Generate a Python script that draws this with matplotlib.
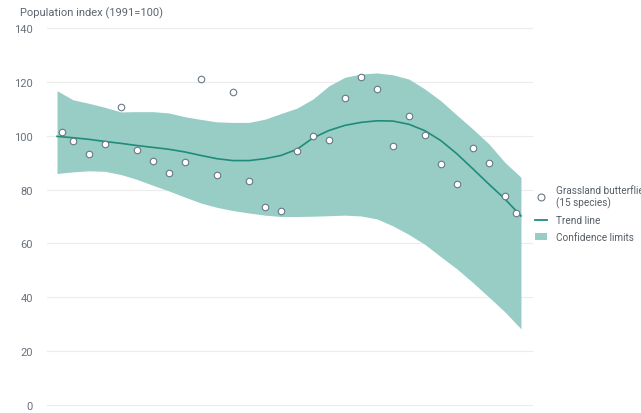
import matplotlib
matplotlib.use("Agg")
import matplotlib.pyplot as plt
from matplotlib.lines import Line2D
from matplotlib.patches import Patch

plt.rcParams['font.family'] = ['Roboto', 'DejaVu Sans']

# observed index values (points)
obs_years = [1991.3, 1992, 1993, 1994, 1995, 1996, 1997, 1998, 1999, 2000,
             2001, 2002, 2003, 2004, 2005, 2006, 2007, 2008, 2009, 2010,
             2011, 2012, 2013, 2014, 2015, 2016, 2017, 2018, 2019, 2019.67]
obs_values = [101.5, 98.1, 93.3, 96.8, 110.7, 94.8, 90.6, 86.3, 90.3, 121.1,
              85.3, 116.4, 83.2, 73.4, 72.1, 94.5, 99.9, 98.4, 114.1, 122.0,
              117.3, 96.2, 107.4, 100.3, 89.5, 82.0, 95.3, 89.9, 77.7, 71.2]

# trend and confidence limits
years = list(range(1991, 2021))
trend = [99.8, 99.3, 98.7, 97.9, 97.2, 96.4, 95.7, 95.0, 94.0, 92.7,
         91.5, 90.8, 90.8, 91.5, 92.7, 95.0, 99.2, 102.0, 103.9, 105.0,
         105.6, 105.5, 104.3, 101.9, 98.2, 93.3, 87.7, 82.0, 76.5, 70.2]
lower = [86.0, 86.6, 87.0, 86.8, 85.6, 83.8, 81.6, 79.5, 77.2, 75.0,
         73.4, 72.2, 71.3, 70.5, 70.0, 70.0, 70.1, 70.3, 70.5, 70.2,
         69.1, 66.5, 63.3, 59.6, 55.0, 50.5, 45.4, 40.0, 34.5, 28.2]
upper = [116.8, 113.4, 112.1, 110.6, 108.9, 109.0, 109.0, 108.5, 107.1, 106.1,
         105.2, 105.0, 105.0, 106.2, 108.3, 110.3, 113.7, 118.6, 121.8, 123.0,
         123.4, 122.7, 121.1, 117.4, 113.0, 107.7, 102.5, 97.0, 90.1, 84.6]

yticks = [0, 20, 40, 60, 80, 100, 120, 140]

band_color = '#98cdc5'
line_color = '#1f8c7b'
edge_color = '#6b7785'
text_color = '#69717b'

fig = plt.figure(figsize=(6.41, 4.14), dpi=100)
ax = fig.add_axes([47/641, (414-405.7)/414, 485/641, 376.4/414])

ax.fill_between(years, lower, upper, color=band_color, linewidth=0, zorder=2)
ax.plot(years, trend, color=line_color, linewidth=1.2, zorder=3)
ax.scatter(obs_years, obs_values, s=22, facecolor='white', edgecolor=edge_color,
           linewidth=0.8, zorder=4)

ax.set_xlim(1990.375, 2020.69)
ax.set_ylim(0, 140)
ax.set_yticks(yticks)
ax.set_xticks([])
ax.grid(axis='y', color='#ececec', linewidth=0.8, zorder=0)
ax.set_axisbelow(True)
for s in ax.spines.values():
    s.set_visible(False)
ax.tick_params(axis='y', length=0, pad=10, labelsize=8, labelcolor=text_color)
for gl in ax.get_ygridlines():
    gl.set_clip_on(False)

fig.text(20/641, 1 - 13/414, 'Population index (1991=100)', fontsize=8,
         color='#5c646e', va='center', ha='left')

handles = [
    Line2D([], [], marker='o', linestyle='none', markerfacecolor='white',
           markeredgecolor=edge_color, markersize=5, markeredgewidth=0.8),
    Line2D([], [], color=line_color, linewidth=1.3),
    Patch(facecolor=band_color, edgecolor='none'),
]
labels = ['Grassland butterflies\n(15 species)', 'Trend line', 'Confidence limits']
leg = fig.legend(handles, labels, loc='upper left',
                 bbox_to_anchor=(535/641, 1 - 186/414), frameon=False,
                 fontsize=7.2, handlelength=1.2, handletextpad=0.85,
                 labelspacing=0.7, borderaxespad=0, borderpad=0)
for t in leg.get_texts():
    t.set_color('#555d66')

fig.savefig('out.png', dpi=100)
